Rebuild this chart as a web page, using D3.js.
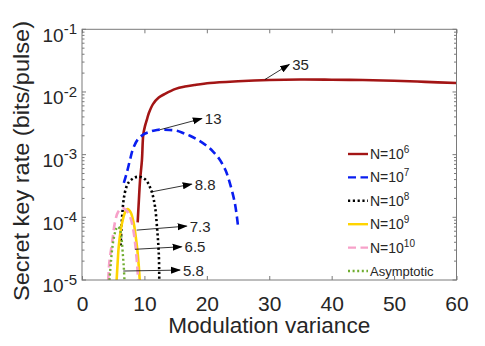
<!DOCTYPE html>
<html><head><meta charset="utf-8">
<script src="https://cdn.jsdelivr.net/npm/d3@7"></script>
<style>body{margin:0;background:#fff;} text{font-family:Arial,"Liberation Sans",Helvetica,sans-serif;fill:#262626;}</style>
</head><body><svg id="c" width="485" height="346"></svg>
<script>
// ---- data ----
const xTicks = [0, 10, 20, 30, 40, 50, 60];
const yTickExps = [-5, -4, -3, -2, -1];

const vN6 = [8.92, 9.1, 9.3, 9.6, 9.82, 10.1, 10.4, 10.7, 11.4, 12.3, 13.3, 15, 16.5, 18, 20.5, 25, 30, 35, 40, 45, 50, 55, 60];
const rN6 = [8.3e-5, 1.78e-4, 3.89e-4, 8.13e-4, 2.09e-3, 2.88e-3, 3.63e-3, 4.57e-3, 6.46e-3, 8.13e-3, 9.33e-3, 1.12e-2, 1.22e-2, 1.29e-2, 1.39e-2, 1.48e-2, 1.55e-2, 1.58e-2, 1.57e-2, 1.55e-2, 1.51e-2, 1.45e-2, 1.39e-2];

const vN7 = [6.7, 7.2, 7.7, 8.2, 9.0, 10, 11, 12, 13, 14, 15.2, 16.3, 17.3, 18.5, 20, 21, 22, 23, 23.7, 24.5, 25];
const rN7 = [3.55e-4, 5.25e-4, 8.32e-4, 1.26e-3, 1.78e-3, 2.14e-3, 2.34e-3, 2.48e-3, 2.51e-3, 2.48e-3, 2.40e-3, 2.19e-3, 2.00e-3, 1.74e-3, 1.38e-3, 1.12e-3, 8.51e-4, 5.62e-4, 3.47e-4, 1.66e-4, 7.24e-5];

const vN8 = [6.2, 6.3, 6.45, 6.7, 7.1, 7.5, 8.2, 8.8, 9.5, 10.3, 10.8, 11.2, 11.7, 12.05, 12.3, 12.38];
const rN8 = [3.55e-5, 6.31e-5, 1.10e-4, 2.00e-4, 3.02e-4, 3.63e-4, 4.17e-4, 4.42e-4, 4.37e-4, 3.89e-4, 3.16e-4, 2.51e-4, 1.48e-4, 6.31e-5, 2.69e-5, 1.0e-5];

const vN9 = [5.55, 5.75, 5.9, 6.4, 6.9, 7.3, 7.8, 8.3, 8.6, 8.9, 9.1, 9.25];
const rN9 = [1.0e-5, 2.2e-5, 3.55e-5, 7.94e-5, 1.20e-4, 1.35e-4, 1.20e-4, 7.94e-5, 5.01e-5, 2.82e-5, 1.66e-5, 1.0e-5];

const vN10 = [4.2, 4.4, 4.8, 5.3, 5.8, 6.5, 7.2, 7.8, 8.3, 8.6, 8.85, 9.0];
const rN10 = [1.0e-5, 2.0e-5, 3.8e-5, 8.5e-5, 1.23e-4, 1.41e-4, 1.26e-4, 9.55e-5, 5.62e-5, 3.16e-5, 1.66e-5, 1.0e-5];

const vAsym = [4.4, 4.6, 4.9, 5.2, 5.5, 5.8, 6.1, 6.35, 6.55, 6.7, 6.8];
const rAsym = [1.0e-5, 1.78e-5, 3.55e-5, 5.25e-5, 6.61e-5, 7.08e-5, 6.31e-5, 4.47e-5, 2.51e-5, 1.58e-5, 1.0e-5];

const legendBase = ["N=10", "N=10", "N=10", "N=10", "N=10", "Asymptotic"];
const legendExp = ["6", "7", "8", "9", "10", ""];

// annotations: label, tail (v, rate), head (v, rate)
const annLabels = ["35", "13", "8.8", "7.3", "6.5", "5.8"];
const annTailV = [29.3, 12.5, 11.16, 8.76, 8.49, 6.61];
const annTailR = [1.58e-2, 2.5e-3, 2.55e-4, 6.25e-5, 3.09e-5, 1.39e-5];
const annHeadV = [33.2, 19.2, 17.57, 16.77, 15.96, 15.7];
const annHeadR = [2.75e-2, 3.76e-3, 3.39e-4, 7.24e-5, 3.39e-5, 1.44e-5];

// ---- styles ----
const styles = [
  {color: "#a31515", dash: null, width: 2.6},
  {color: "#0a1ef0", dash: "8,4.5", width: 2.6},
  {color: "#000000", dash: "2.2,2.6", width: 2.6},
  {color: "#ffd400", dash: null, width: 2.6},
  {color: "#f7a1c9", dash: "8,4.5", width: 2.6},
  {color: "#6fad2f", dash: "2,2.6", width: 2.4}
];
const seriesV = [vN6, vN7, vN8, vN9, vN10, vAsym];
const seriesR = [rN6, rN7, rN8, rN9, rN10, rAsym];

// ---- layout ----
const svg = d3.select("#c");
const L = 82, R = 456.5, T = 29.3, B = 280;
const x = d3.scaleLinear().domain([0, 60]).range([L, R]);
const y = d3.scaleLog().domain([1e-5, 1e-1]).range([B, T]);
const axisColor = "#7a7a7a";

svg.append("defs").append("clipPath").attr("id", "clip")
  .append("rect").attr("x", L).attr("y", T).attr("width", R - L).attr("height", B - T);
svg.select("defs").append("marker").attr("id", "arr")
  .attr("viewBox", "0 0 10 10").attr("refX", 9).attr("refY", 5)
  .attr("markerWidth", 10).attr("markerHeight", 10).attr("markerUnits", "userSpaceOnUse")
  .attr("orient", "auto")
  .append("path").attr("d", "M0,1.5 L10,5 L0,8.5 Z").attr("fill", "#000");

// curves
const plot = svg.append("g").attr("clip-path", "url(#clip)");
const line = d3.line().x(d => x(d[0])).y(d => y(d[1])).curve(d3.curveCatmullRom.alpha(0.5));
seriesV.forEach((vs, i) => {
  const pts = vs.map((v, j) => [v, seriesR[i][j]]);
  plot.append("path").attr("d", line(pts)).attr("fill", "none")
    .attr("stroke", styles[i].color).attr("stroke-width", styles[i].width)
    .attr("stroke-dasharray", styles[i].dash);
});

// box
svg.append("rect").attr("x", L).attr("y", T).attr("width", R - L).attr("height", B - T)
  .attr("fill", "none").attr("stroke", axisColor).attr("stroke-width", 1);

// x axis bottom / top
const xb = d3.axisBottom(x).tickValues(xTicks).tickSizeInner(-4).tickSizeOuter(0).tickPadding(16);
const gxb = svg.append("g").attr("transform", `translate(0,${B})`).call(xb);
gxb.select(".domain").remove();
gxb.selectAll("line").attr("stroke", axisColor);
gxb.selectAll("text").attr("font-size", 21).attr("fill", "#262626").style("font-family", "Arial, 'Liberation Sans', sans-serif");
const xt = d3.axisTop(x).tickValues(xTicks).tickSizeInner(-4).tickSizeOuter(0).tickFormat("");
const gxt = svg.append("g").attr("transform", `translate(0,${T})`).call(xt);
gxt.select(".domain").remove();
gxt.selectAll("line").attr("stroke", axisColor);

// y ticks (log) left and right
const minor = [];
yTickExps.slice(0, -1).forEach(e => { for (let k = 2; k <= 9; k++) minor.push(k * Math.pow(10, e)); });
const major = yTickExps.map(e => Math.pow(10, e));
[[L, 1], [R, -1]].forEach(([x0, dir]) => {
  svg.append("g").selectAll("line").data(major).join("line")
    .attr("x1", x0).attr("x2", x0 + dir * 4).attr("y1", d => y(d)).attr("y2", d => y(d))
    .attr("stroke", axisColor);
  svg.append("g").selectAll("line").data(minor).join("line")
    .attr("x1", x0).attr("x2", x0 + dir * 2.5).attr("y1", d => y(d)).attr("y2", d => y(d))
    .attr("stroke", axisColor);
});
const yl = svg.append("g").selectAll("text").data(yTickExps).join("text")
  .attr("x", 77).attr("y", d => y(Math.pow(10, d)) + 12.4).attr("text-anchor", "end").attr("font-size", 19);
yl.append("tspan").text("10");
yl.append("tspan").attr("dy", -7.7).attr("font-size", 15).text(d => "-" + (-d));

// axis titles
svg.append("text").attr("x", (L + R) / 2).attr("y", 333).attr("text-anchor", "middle")
  .attr("font-size", 22).attr("textLength", 202).attr("lengthAdjust", "spacingAndGlyphs")
  .text("Modulation variance");
svg.append("text").attr("transform", "translate(29,161) rotate(-90)").attr("text-anchor", "middle")
  .attr("font-size", 22).attr("textLength", 280).attr("lengthAdjust", "spacingAndGlyphs")
  .text("Secret key rate (bits/pulse)");

// annotations
annLabels.forEach((lab, i) => {
  const x1 = x(annTailV[i]), y1 = y(annTailR[i]), x2 = x(annHeadV[i]), y2 = y(annHeadR[i]);
  svg.append("line").attr("x1", x1).attr("y1", y1).attr("x2", x2).attr("y2", y2)
    .attr("stroke", "#000").attr("stroke-width", 0.8).attr("marker-end", "url(#arr)");
  svg.append("text").attr("x", x2 + 3).attr("y", y2 + 5.5).attr("font-size", 15).attr("fill", "#111").text(lab);
});

// legend
const legY0 = 154, legDy = 23.4;
legendBase.forEach((b, i) => {
  const ly = legY0 + i * legDy;
  svg.append("line").attr("x1", 348).attr("x2", 368).attr("y1", ly).attr("y2", ly)
    .attr("stroke", styles[i].color).attr("stroke-width", 2.4).attr("stroke-dasharray", styles[i].dash);
  const t = svg.append("text").attr("x", 370).attr("y", ly + 5).attr("font-size", i < 5 ? 14 : 13).attr("fill", "#111");
  t.append("tspan").text(b);
  if (legendExp[i]) t.append("tspan").attr("dy", -6).attr("font-size", 10).text(legendExp[i]);
});
</script>
</body></html>
